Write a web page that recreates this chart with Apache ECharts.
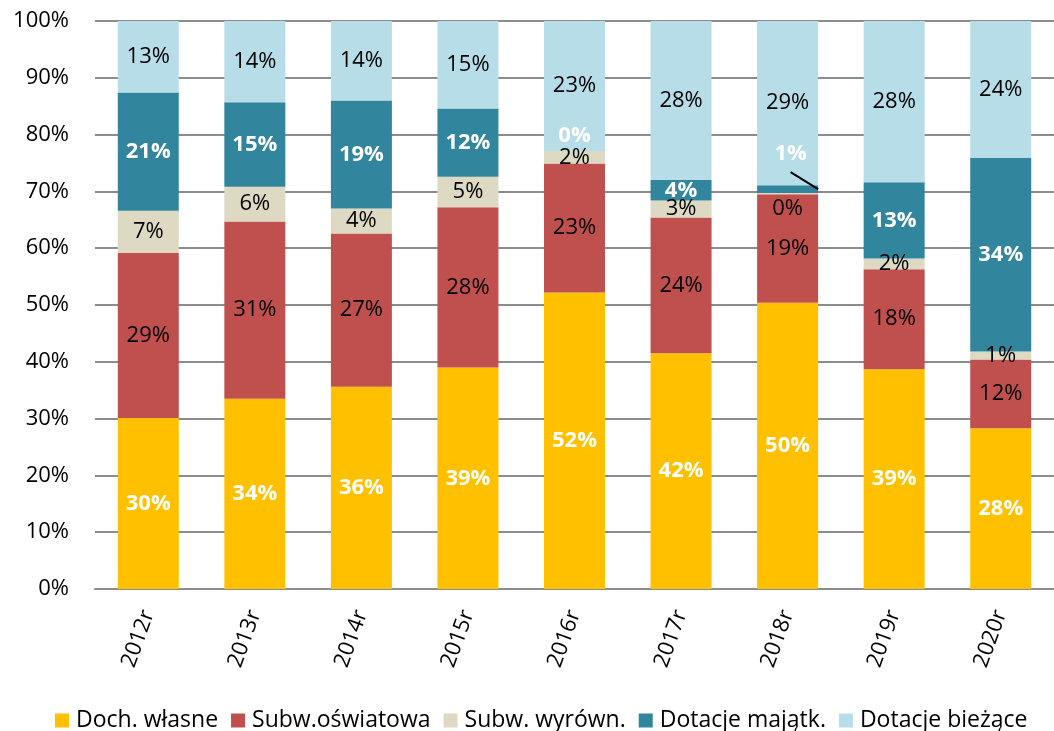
<!DOCTYPE html>
<html>
<head>
<meta charset="utf-8">
<script src="https://cdn.jsdelivr.net/npm/echarts@6/dist/echarts.min.js"></script>
<style>
  html, body { margin: 0; padding: 0; background: #fff; }
  #chart { width: 1054px; height: 731px; }
</style>
</head>
<body>
<div id="chart"></div>
<script>
const years = ['2012r', '2013r', '2014r', '2015r', '2016r', '2017r', '2018r', '2019r', '2020r']
const seriesNames = ['Doch. własne', 'Subw.oświatowa', 'Subw. wyrówn.', 'Dotacje majątk.', 'Dotacje bieżące']
const dochWlasne = [30.1, 33.5, 35.6, 39.0, 52.2, 41.5, 50.4, 38.7, 28.3]
const subwOswiatowa = [29.1, 31.2, 27.0, 28.2, 22.7, 23.9, 19.1, 17.6, 12.1]
const subwWyrown = [7.4, 6.1, 4.4, 5.4, 2.2, 3.0, 0.2, 1.9, 1.4]
const dotacjeMajatk = [20.8, 14.9, 19.0, 12.0, 0.0, 3.6, 1.4, 13.4, 34.1]
const dotacjeBiezace = [12.6, 14.3, 14.0, 15.4, 22.9, 28.0, 28.9, 28.4, 24.1]
const yTicks = [0, 10, 20, 30, 40, 50, 60, 70, 80, 90, 100]

const colors = ['#FFC000', '#C0504D', '#DDD9C3', '#31859C', '#B7DEE8']
const FONT = 'Open Sans'
const BAR_W = 61

const chart = echarts.init(document.getElementById('chart'))

// etykieta: białe pogrubione na ciemnych, czarne na jasnych
function makeSeries(name, data, idx, white) {
  return {
    name: name,
    type: 'bar',
    stack: 'total',
    barWidth: BAR_W,
    data: data,
    itemStyle: { color: colors[idx] },
    label: {
      show: true,
      position: 'inside',
      fontFamily: FONT,
      fontSize: 22,
      fontWeight: white ? 'bold' : 'normal',
      color: white ? '#fff' : '#000',
      formatter: p => Math.round(p.value) + '%',
    },
    labelLayout: function (p) {
      // ręcznie przesunięte etykiety (jak w oryginale)
      if (idx === 3 && p.dataIndex === 4) return { dy: -15 }
      if (idx === 3 && p.dataIndex === 6) return { dx: 3, dy: -35 }
      if (idx === 2 && p.dataIndex === 6) return { dy: 15 }
      return {}
    },
  }
}

const option = {
  animation: false,
  textStyle: { fontFamily: FONT },
  grid: { left: 95, right: -10, top: 21, bottom: 142 },
  legend: {
    data: seriesNames,
    top: 704,
    left: 50,
    itemWidth: 14,
    itemHeight: 14,
    itemGap: 13,
    icon: 'rect',
    textStyle: { fontFamily: FONT, fontSize: 23, color: '#000', padding: [0, 0, 0, 2] },
  },
  xAxis: {
    type: 'category',
    data: years,
    axisLine: { show: true, lineStyle: { color: '#8c8c8c', width: 2 } },
    axisTick: { show: false },
    axisLabel: {
      rotate: 70,
      margin: 22,
      fontFamily: FONT,
      fontSize: 22,
      color: '#000',
    },
  },
  yAxis: {
    type: 'value',
    min: yTicks[0],
    max: yTicks[yTicks.length - 1],
    interval: 10,
    axisLine: { show: false },
    axisTick: { show: false },
    axisLabel: {
      margin: 26,
      fontFamily: FONT,
      fontSize: 22,
      color: '#000',
      formatter: '{value}%',
    },
    splitLine: { lineStyle: { color: '#8c8c8c', width: 2 } },
  },
  series: [
    makeSeries(seriesNames[0], dochWlasne, 0, true),
    makeSeries(seriesNames[1], subwOswiatowa, 1, false),
    makeSeries(seriesNames[2], subwWyrown, 2, false),
    makeSeries(seriesNames[3], dotacjeMajatk, 3, true),
    makeSeries(seriesNames[4], dotacjeBiezace, 4, false),
  ],
}

chart.setOption(option)

// linia odniesienia dla etykiety "1%" (2018r) — liczona ze skali osi
const k = 6
const base = dochWlasne[k] + subwOswiatowa[k] + subwWyrown[k]
const mid = chart.convertToPixel({ gridIndex: 0 }, [years[k], base + dotacjeMajatk[k] / 2])
chart.setOption({
  graphic: [{
    type: 'line',
    z: 100,
    shape: { x1: mid[0] + 3, y1: mid[1] - 17, x2: mid[0] + BAR_W / 2, y2: mid[1] },
    style: { stroke: '#000', lineWidth: 2 },
  }],
})

window.addEventListener('resize', () => chart.resize())
</script>
</body>
</html>
